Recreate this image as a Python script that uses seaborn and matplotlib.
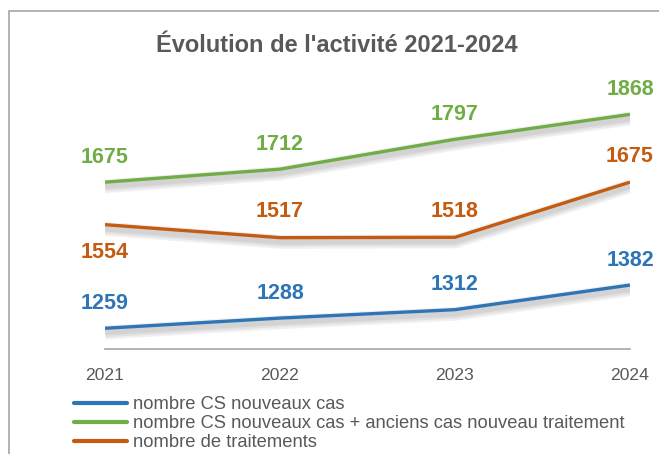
import matplotlib
matplotlib.use("Agg")
import matplotlib.pyplot as plt
import matplotlib.patheffects as pe
from matplotlib.patches import Rectangle
import seaborn as sns
import pandas as pd

annees = [2021, 2022, 2023, 2024]
cs_nouveaux = [1259, 1288, 1312, 1382]
cs_total = [1675, 1712, 1797, 1868]
traitements = [1554, 1517, 1518, 1675]

noms = ["nombre CS nouveaux cas",
        "nombre CS nouveaux cas + anciens cas nouveau traitement",
        "nombre de traitements"]
couleurs = ["#2E75B6", "#70AD47", "#C55A11"]
gris = "#595959"

df = pd.DataFrame({
    "annee": annees * 3,
    "valeur": cs_nouveaux + cs_total + traitements,
    "serie": [noms[0]] * 4 + [noms[1]] * 4 + [noms[2]] * 4,
})

sns.set_theme(style="white")
plt.rcParams["font.family"] = ["Liberation Sans", "DejaVu Sans"]

fig = plt.figure(figsize=(6.59, 4.54), dpi=100)
ax = fig.add_axes([105 / 659, 1 - 349 / 454, (630 - 105) / 659, (349 - 68) / 454])

sns.lineplot(data=df, x="annee", y="valeur", hue="serie", hue_order=noms,
             palette=couleurs, linewidth=2.4, ax=ax, legend=False)

ombre = [pe.SimpleLineShadow(offset=(0, -3), shadow_color="black", alpha=0.06, linewidth=w)
         for w in (10, 7, 4)] + [pe.Normal()]
for ligne in ax.lines:
    ligne.set_path_effects(ombre)
    ligne.set_solid_capstyle("butt")

# étiquettes de données
decal = {0: [25] * 4, 1: [25] * 4, 2: [-28, 26, 26, 26]}
for i, serie in enumerate([cs_nouveaux, cs_total, traitements]):
    for x, v, d in zip(annees, serie, decal[i]):
        ax.annotate(str(v), (x, v), xytext=(0, d), textcoords="offset pixels",
                    ha="center", va="center", fontsize=15.5, fontweight="bold",
                    color=couleurs[i])

ax.set_xlim(2021, 2024)
ax.set_ylim(1200, 2000)
ax.set_xticks(annees)
ax.set_xticklabels([str(a) for a in annees])
ax.set_yticks([])
ax.set_xlabel("")
ax.set_ylabel("")
ax.tick_params(axis="x", length=0, pad=14, labelsize=12.6, labelcolor=gris)
for cote in ["top", "right", "left"]:
    ax.spines[cote].set_visible(False)
ax.spines["bottom"].set_color("#a6a6a6")
ax.spines["bottom"].set_linewidth(1.2)
ax.patch.set_alpha(0)

handles = [plt.Line2D([], [], color=c, linewidth=3) for c in couleurs]
ax.legend(handles, noms, loc="upper left", bbox_to_anchor=(74 / 659, 1 - 396 / 454),
          bbox_transform=fig.transFigure, frameon=False, fontsize=13.2,
          labelcolor=gris, handlelength=2.9, handletextpad=0.3,
          labelspacing=0.12, borderpad=0, borderaxespad=0)

fig.text(337 / 659, 1 - 46 / 454, "Évolution de l'activité 2021-2024",
         ha="center", va="center", fontsize=17, fontweight="bold", color=gris)

fig.patches.append(Rectangle((9 / 659, -0.1), 2, 1.1 - 11 / 454, transform=fig.transFigure,
                             fill=False, edgecolor="#a6a6a6", linewidth=1.2))

fig.savefig("out.png", dpi=100)
